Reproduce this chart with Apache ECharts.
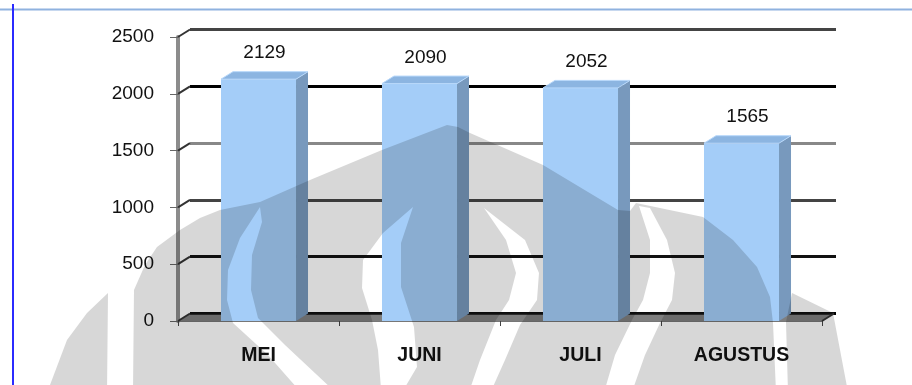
<!DOCTYPE html>
<html><head><meta charset="utf-8">
<script src="https://cdn.jsdelivr.net/npm/echarts@6/dist/echarts.min.js"></script>
<style>html,body{margin:0;padding:0;background:#fff}#c{width:912px;height:385px}</style>
</head><body><div id="c"></div>
<script>
// ---- data ----
const categories = ['MEI', 'JUNI', 'JULI', 'AGUSTUS'];
const values = [2129, 2090, 2052, 1565];
const yTicks = [0, 500, 1000, 1500, 2000, 2500];

// ---- styling ----
const DX = 12, DY = -7.5;
const FONT = "'Liberation Sans', Arial, sans-serif";
const chart = echarts.init(document.getElementById('c'), null, { renderer: 'canvas' });

function bar3d(params, api) {
  const idx = api.value(0), v = api.value(1);
  const top = api.coord([idx, v]);
  const bot = api.coord([idx, 0]);
  const band = api.size([1, 0])[0];
  const w = band * 0.466;
  const x0 = top[0] - w / 2, x1 = top[0] + w / 2;
  const yT = top[1], yB = bot[1];
  return {
    type: 'group', children: [
      { type: 'polygon', shape: { points: [[x1, yT], [x1 + DX, yT + DY], [x1 + DX, yB + DY], [x1, yB]] }, style: { fill: '#7899bd' } },
      { type: 'rect', shape: { x: x0, y: yT, width: w, height: yB - yT }, style: { fill: '#a4cdf8' } },
      { type: 'polygon', shape: { points: [[x0, yT], [x1, yT], [x1 + DX, yT + DY], [x0 + DX, yT + DY]] }, style: { fill: '#8cb5e1', stroke: '#b8d8fa', lineWidth: 1 } },
      { type: 'text', x: (x0 + x1 + DX) / 2, y: yT + DY - 9,
        style: { text: String(v), align: 'center', verticalAlign: 'bottom', fontSize: 19, fontFamily: FONT, fill: '#111' } }
    ]
  };
}

function floorAndWall(params, api) {
  const band = api.size([1, 0])[0];
  const xl = api.coord([0, 0])[0] - band / 2;
  const xr = api.coord([categories.length - 1, 0])[0] + band / 2;
  const yB = api.coord([0, 0])[1];
  const children = [
    { type: 'polygon', shape: { points: [[xl, yB], [xr, yB], [xr + DX, yB + DY], [xl + DX, yB + DY]] }, style: { fill: '#7f7f7f' } },
    { type: 'line', shape: { x1: xl + DX, y1: yB + DY, x2: xr + DX, y2: yB + DY }, style: { stroke: '#111', lineWidth: 2.5 } },
    { type: 'line', shape: { x1: xr, y1: yB, x2: xr + DX, y2: yB + DY }, style: { stroke: '#333', lineWidth: 2 } }
  ];
  yTicks.forEach(t => {
    const y = api.coord([0, t])[1];
    children.push({ type: 'line', shape: { x1: xl, y1: y, x2: xl + DX, y2: y + DY }, style: { stroke: '#333', lineWidth: 2 } });
  });
  return { type: 'group', children };
}

const watermark =
  'M133,392 L134,290 L145,265 L157,247 L180,230 L200,218 L220,210 L260,202 L310,180 L382,150 L447,125 L458,127 L470,133 L543,165 L618,210 L630,211 L636,203 L703,217 L733,240 L757,267 L770,297 L773,323 L776,392 Z ' +
  'M788,392 L786,322 L792,293 L833,313 L848,392 Z ' +
  'M50,392 L50,385 L67,340 L87,313 L108,293 L107,392 Z ' +
  'M260,207 L240,238 L228,270 L227,300 L233,323 L268,355 L298,389 L332,389 L285,345 L258,318 L251,290 L252,255 L262,222 Z ' +
  'M413,207 L383,233 L363,260 L362,288 L372,320 L378,350 L381,389 L404,389 L417,367 L414,327 L401,287 L401,243 Z ' +
  'M484,208 L506,240 L516,273 L509,300 L496,320 L480,360 L470,389 L492,389 L505,360 L520,325 L537,300 L539,273 L525,240 Z ' +
  'M639,206 L650,240 L650,273 L643,300 L632,320 L615,355 L605,389 L633,389 L645,355 L660,323 L672,300 L675,273 L667,240 L650,208 Z';

const option = {
  backgroundColor: '#ffffff',
  animation: false,
  grid: [
    { left: 178, top: 37, width: 644, height: 284 },
    { left: 178 + DX, top: 37 + DY, width: 646, height: 284 }
  ],
  xAxis: [
    { type: 'category', gridIndex: 0, data: categories, boundaryGap: true,
      axisLine: { show: true, lineStyle: { color: '#777', width: 1 } },
      axisTick: { show: true, length: 5, lineStyle: { color: '#444' } },
      axisLabel: { margin: 25, fontSize: 19.5, fontWeight: 'bold', fontFamily: FONT, color: '#111' } },
    { type: 'category', gridIndex: 1, data: categories, show: false }
  ],
  yAxis: [
    { type: 'value', gridIndex: 0, min: 0, max: 2500, interval: 500,
      axisLine: { show: true, lineStyle: { color: '#8c8c8c', width: 4 } },
      axisTick: { show: true, length: 8, lineStyle: { color: '#666' } },
      axisLabel: { margin: 24, fontSize: 19, fontFamily: FONT, color: '#111', formatter: v => String(v) },
      splitLine: { show: false } },
    { type: 'value', gridIndex: 1, min: 0, max: 2500, interval: 500,
      axisLine: { show: false }, axisTick: { show: false }, axisLabel: { show: false },
      splitLine: { show: true, lineStyle: { color: ['#000', '#111', '#444', '#888', '#000', '#444'], width: 3 } } }
  ],
  series: [
    { type: 'custom', xAxisIndex: 0, yAxisIndex: 0, renderItem: floorAndWall, data: [[0, 0]], z: 3, silent: true },
    { type: 'custom', xAxisIndex: 0, yAxisIndex: 0, renderItem: bar3d,
      data: values.map((v, i) => [i, v]), z: 5, silent: true }
  ],
  graphic: [
    { type: 'line', shape: { x1: 0, y1: 9.5, x2: 912, y2: 9.5 }, style: { stroke: '#8fb2df', lineWidth: 2 }, z: 101 },
    { type: 'line', shape: { x1: 13, y1: 4, x2: 13, y2: 385 }, style: { stroke: '#2b2bff', lineWidth: 2 }, z: 101 }
  ]
};
chart.setOption(option);

// translucent watermark laid over the chart (multiply blend)
const wm = echarts.graphic.makePath(watermark, {
  style: { fill: '#d7d7d7', blend: 'multiply' }, silent: true, z: 100, zlevel: 0
});
chart.getZr().add(wm);
</script></body></html>
